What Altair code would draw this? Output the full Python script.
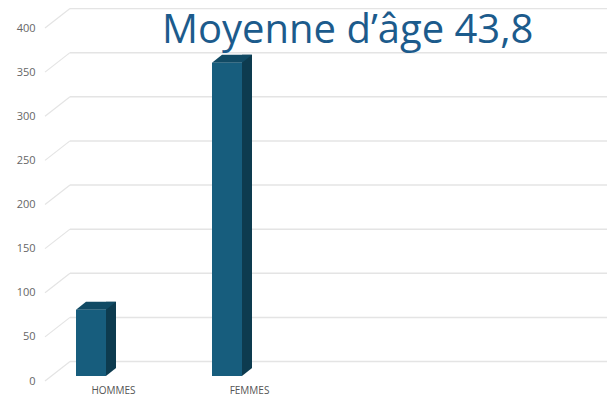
import altair as alt
import pandas as pd

categories = ["HOMMES", "FEMMES"]
counts = [75, 355]
tick_values = [0, 50, 100, 150, 200, 250, 300, 350, 400]
title_text = "Moyenne d\u2019\u00e2ge 43,8"

bars = pd.DataFrame({"cat": categories, "val": counts})
ticks = pd.DataFrame({"v": tick_values})
title_df = pd.DataFrame({"t": [title_text]})

FRONT = "#175D7D"
TOP = "#114A64"
SIDE = "#0D3B4F"
GRID = "#e4e4e4"

W = 562
H = 353

yscale = alt.Scale(domain=[0, 400], nice=False)
yaxis = alt.Axis(values=tick_values, title=None, grid=False, domain=False, ticks=False,
                 labelPadding=10, labelFont="Open Sans", labelFontSize=11, labelColor="#666666")
xscale = alt.Scale(type="point", domain=categories, range=[46, 182], padding=0)
xaxis = alt.Axis(title=None, grid=False, domain=False, ticks=False, labelOffset=22,
                 labelPadding=4, labelFont="Open Sans", labelFontSize=10, labelColor="#555555",
                 labelAngle=0)

def ydef(field):
    return alt.Y(field, type="quantitative", scale=yscale, axis=yaxis)

def xdef():
    return alt.X("cat:N", scale=xscale, axis=xaxis)

DEPTH_Y = -19.5

diag = alt.Chart(ticks).mark_rule(color=GRID, strokeWidth=1.2, y2Offset=DEPTH_Y).encode(
    x=alt.value(0), x2=alt.value(25), y=ydef("v"), y2=alt.Y2("v"))
back = alt.Chart(ticks).mark_rule(color=GRID, strokeWidth=1.5, yOffset=DEPTH_Y).encode(
    x=alt.value(25), x2=alt.value(W), y=ydef("v"))

side = alt.Chart(bars).mark_rect(color=SIDE, xOffset=15, x2Offset=25, yOffset=-13, y2Offset=-5).encode(
    x=xdef(), x2=alt.X2("cat"), y=ydef("val"), y2=alt.datum(0))

tri_path = "M-0.3,0.24 L0.3,0.24 L0.3,-0.24 Z"
cover = alt.Chart(bars).mark_point(shape=tri_path, size=1600, filled=True, opacity=1,
                                   strokeWidth=0, color="white", xOffset=20, yOffset=-9).encode(
    x=xdef(), y=alt.Y(datum=0, scale=yscale, axis=yaxis))

top_path = "M-1,0.2 L0.5,0.2 L1,-0.2 L-0.5,-0.2 Z"
top = alt.Chart(bars).mark_point(shape=top_path, size=1600, filled=True, opacity=1,
                                 strokeWidth=0, color=TOP, xOffset=5, yOffset=-9).encode(
    x=xdef(), y=ydef("val"))

front = alt.Chart(bars).mark_rect(color=FRONT, xOffset=-15, x2Offset=15, yOffset=-5, y2Offset=-5).encode(
    x=xdef(), x2=alt.X2("cat"), y=ydef("val"), y2=alt.datum(0))

title = alt.Chart(title_df).mark_text(align="left", baseline="alphabetic", font="Open Sans",
                                      fontSize=40, color="#1C5B8C").encode(
    x=alt.value(117), y=alt.value(15), text="t:N")

chart = alt.layer(diag, back, side, cover, top, front, title).properties(
    width=W, height=H,
    autosize=alt.AutoSizeParams(type="none"),
    padding={"left": 37, "top": 20, "right": 0, "bottom": 16},
    background="white",
).configure_view(stroke=None)

chart.save("out.html", embed_options={"renderer": "svg", "actions": False})
